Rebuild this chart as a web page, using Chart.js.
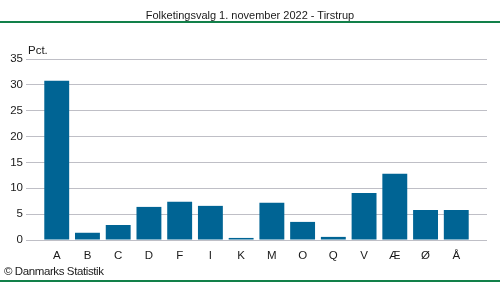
<!DOCTYPE html>
<html>
<head>
<meta charset="utf-8">
<script src="https://cdn.jsdelivr.net/npm/chart.js@4/dist/chart.umd.min.js"></script>
<style>
  html, body { margin: 0; padding: 0; background: #fff; }
  #wrap { position: relative; width: 500px; height: 282px; overflow: hidden;
          font-family: "Liberation Sans", Arial, sans-serif; color: #1a1a1a; }
  #chart { position: absolute; left: 0; top: 0; }
  .txt { position: absolute; font-size: 11.5px; line-height: 14px; white-space: nowrap; }
  #title { left: 0; width: 500px; top: 8px; text-align: center; font-size: 11px; }
  #unit { left: 28px; top: 43px; }
  #credit { left: 4px; top: 264px; letter-spacing: -0.4px; }
  .rule { position: absolute; left: 0; width: 500px; height: 2px; background: #12804a; }
</style>
</head>
<body>
<div id="wrap">
  <canvas id="chart" width="500" height="282"></canvas>
  <div class="txt" id="title">Folketingsvalg 1. november 2022 - Tirstrup</div>
  <div class="rule" style="top:21px"></div>
  <div class="txt" id="unit">Pct.</div>
  <div class="txt" id="credit">© Danmarks Statistik</div>
  <div class="rule" style="top:280px"></div>
</div>
<script>
// Party letters and their share of the vote (pct.)
const parties = ['A', 'B', 'C', 'D', 'F', 'I', 'K', 'M', 'O', 'Q', 'V', 'Æ', 'Ø', 'Å'];
const shares = [30.8, 1.4, 2.9, 6.4, 7.4, 6.6, 0.4, 7.2, 3.5, 0.6, 9.1, 12.8, 5.8, 5.8];
const yTicks = [0, 5, 10, 15, 20, 25, 30, 35];

const fontFamily = '"Liberation Sans", Arial, sans-serif';

new Chart(document.getElementById('chart'), {
  type: 'bar',
  data: {
    datasets: [{
      data: parties.map((p, i) => ({ x: i, y: shares[i] })),
      backgroundColor: '#006494',
      borderWidth: 0,
      barPercentage: 0.81,
      categoryPercentage: 1
    }]
  },
  options: {
    responsive: false,
    animation: false,
    layout: { padding: { top: 59, right: 13, left: 0, bottom: 0 } },
    plugins: { legend: { display: false }, tooltip: { enabled: false }, title: { display: false } },
    scales: {
      x: {
        type: 'linear',
        offset: false,
        min: -1,
        max: 14,
        grid: { display: false, drawTicks: false, offset: false },
        border: { display: false },
        afterBuildTicks: (scale) => { scale.ticks = parties.map((p, i) => ({ value: i })); },
        afterFit: (scale) => { scale.height = 42; },
        ticks: {
          autoSkip: false,
          maxRotation: 0,
          padding: 9,
          color: '#1a1a1a',
          font: { family: fontFamily, size: 11.5 },
          callback: (v) => parties[v] ?? ''
        }
      },
      y: {
        min: 0,
        max: 35,
        afterBuildTicks: (scale) => { scale.ticks = yTicks.map(v => ({ value: v })); },
        afterFit: (scale) => { scale.width = 26; },
        grid: { color: '#bfbfc6', lineWidth: 1, drawTicks: false },
        border: { display: false },
        ticks: {
          padding: 3,
          color: '#1a1a1a',
          font: { family: fontFamily, size: 11.5 }
        }
      }
    }
  }
});
</script>
</body>
</html>
